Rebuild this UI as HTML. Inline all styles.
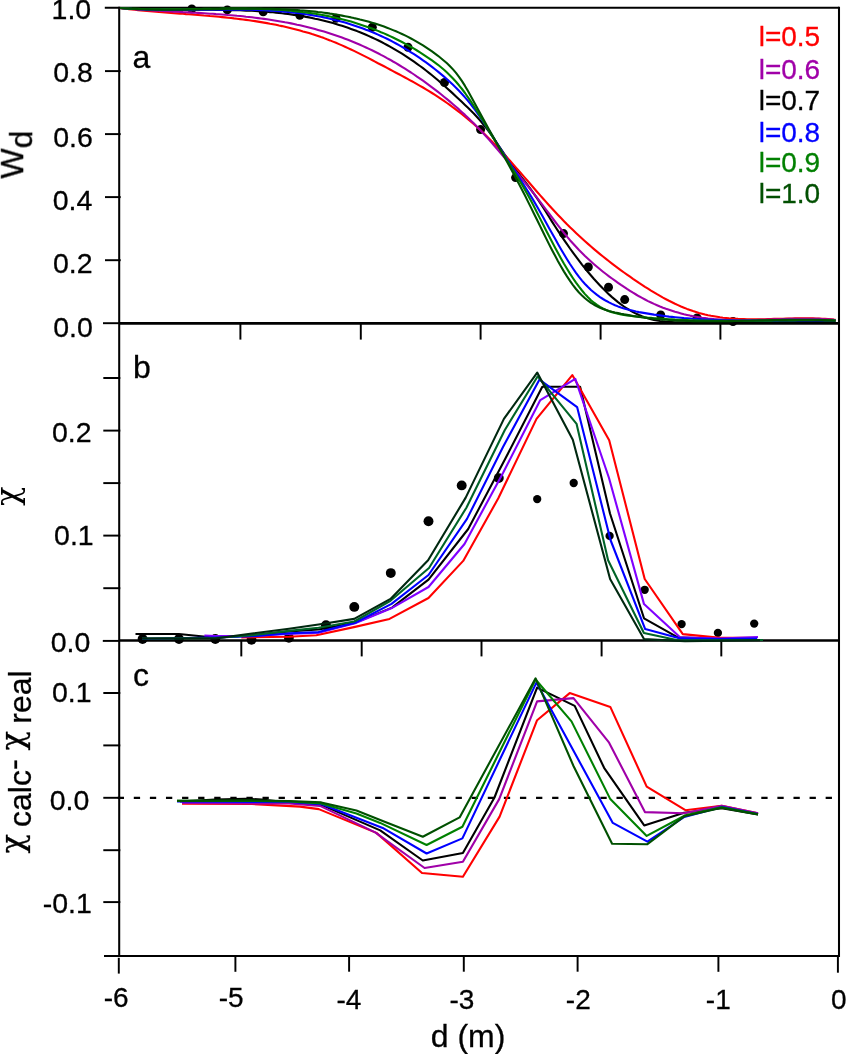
<!DOCTYPE html>
<html><head><meta charset="utf-8"><title>figure</title>
<style>html,body{margin:0;padding:0;background:#fff}svg{display:block}text{font-family:'Liberation Sans', sans-serif}</style>
</head><body>
<svg width="846" height="1054" viewBox="0 0 846 1054">
<rect width="846" height="1054" fill="#fff"/>
<line x1="119.2" y1="6.7" x2="119.2" y2="957.0" stroke="#000" stroke-width="2.05" />
<line x1="839.0" y1="6.7" x2="839.0" y2="957.0" stroke="#000" stroke-width="2.05" />
<line x1="104.8" y1="7.7" x2="839.0" y2="7.7" stroke="#000" stroke-width="2.05" />
<line x1="103.0" y1="323.2" x2="119.2" y2="323.2" stroke="#000" stroke-width="1.95" />
<line x1="119.2" y1="323.4" x2="839.0" y2="323.4" stroke="#000" stroke-width="2.7" />
<line x1="102.8" y1="640.9" x2="119.2" y2="640.9" stroke="#000" stroke-width="1.95" />
<line x1="119.2" y1="640.4" x2="839.0" y2="640.4" stroke="#000" stroke-width="2.5" />
<line x1="104.0" y1="956.0" x2="839.0" y2="956.0" stroke="#000" stroke-width="2.05" />
<line x1="105.0" y1="71.1" x2="120.7" y2="71.1" stroke="#000" stroke-width="1.95" />
<line x1="105.0" y1="134.1" x2="120.7" y2="134.1" stroke="#000" stroke-width="1.95" />
<line x1="105.0" y1="197.1" x2="120.7" y2="197.1" stroke="#000" stroke-width="1.95" />
<line x1="105.0" y1="260.2" x2="120.7" y2="260.2" stroke="#000" stroke-width="1.95" />
<line x1="103.3" y1="378.0" x2="120.3" y2="378.0" stroke="#000" stroke-width="1.95" />
<line x1="103.3" y1="430.6" x2="120.3" y2="430.6" stroke="#000" stroke-width="1.95" />
<line x1="103.3" y1="483.1" x2="120.3" y2="483.1" stroke="#000" stroke-width="1.95" />
<line x1="103.3" y1="535.6" x2="120.3" y2="535.6" stroke="#000" stroke-width="1.95" />
<line x1="103.3" y1="588.2" x2="120.3" y2="588.2" stroke="#000" stroke-width="1.95" />
<line x1="103.3" y1="693.0" x2="120.3" y2="693.0" stroke="#000" stroke-width="1.95" />
<line x1="103.3" y1="745.4" x2="120.3" y2="745.4" stroke="#000" stroke-width="1.95" />
<line x1="103.3" y1="797.8" x2="120.3" y2="797.8" stroke="#000" stroke-width="1.95" />
<line x1="103.3" y1="850.2" x2="120.3" y2="850.2" stroke="#000" stroke-width="1.95" />
<line x1="103.3" y1="902.1" x2="120.3" y2="902.1" stroke="#000" stroke-width="1.95" />
<line x1="240.4" y1="323.4" x2="240.4" y2="339.6" stroke="#000" stroke-width="1.95" />
<line x1="360.8" y1="323.4" x2="360.8" y2="339.6" stroke="#000" stroke-width="1.95" />
<line x1="480.6" y1="323.4" x2="480.6" y2="339.6" stroke="#000" stroke-width="1.95" />
<line x1="600.6" y1="323.4" x2="600.6" y2="339.6" stroke="#000" stroke-width="1.95" />
<line x1="720.4" y1="323.4" x2="720.4" y2="339.6" stroke="#000" stroke-width="1.95" />
<line x1="241.3" y1="640.4" x2="241.3" y2="656.4" stroke="#000" stroke-width="1.95" />
<line x1="361.7" y1="640.4" x2="361.7" y2="656.4" stroke="#000" stroke-width="1.95" />
<line x1="481.5" y1="640.4" x2="481.5" y2="656.4" stroke="#000" stroke-width="1.95" />
<line x1="601.6" y1="640.4" x2="601.6" y2="656.4" stroke="#000" stroke-width="1.95" />
<line x1="721.3" y1="640.4" x2="721.3" y2="656.4" stroke="#000" stroke-width="1.95" />
<line x1="118.8" y1="957.8" x2="118.8" y2="973.6" stroke="#000" stroke-width="1.95" />
<line x1="235.4" y1="956.0" x2="235.4" y2="971.8" stroke="#000" stroke-width="1.95" />
<line x1="349.1" y1="956.0" x2="349.1" y2="971.7" stroke="#000" stroke-width="1.95" />
<line x1="463.8" y1="956.0" x2="463.8" y2="971.7" stroke="#000" stroke-width="1.95" />
<line x1="577.6" y1="956.0" x2="577.6" y2="971.7" stroke="#000" stroke-width="1.95" />
<line x1="718.4" y1="956.0" x2="718.4" y2="971.8" stroke="#000" stroke-width="1.95" />
<line x1="837.9" y1="956.0" x2="837.9" y2="972.7" stroke="#000" stroke-width="1.95" />
<circle cx="191.8" cy="9.0" r="4.5" fill="#000"/>
<circle cx="227.3" cy="9.9" r="4.5" fill="#000"/>
<circle cx="263.2" cy="11.8" r="4.5" fill="#000"/>
<circle cx="299.8" cy="15.2" r="4.5" fill="#000"/>
<circle cx="336.0" cy="18.2" r="4.5" fill="#000"/>
<circle cx="372.3" cy="27.2" r="4.5" fill="#000"/>
<circle cx="408.0" cy="47.3" r="4.5" fill="#000"/>
<circle cx="444.5" cy="82.5" r="4.5" fill="#000"/>
<circle cx="480.6" cy="129.6" r="4.5" fill="#000"/>
<circle cx="515.6" cy="177.6" r="4.5" fill="#000"/>
<circle cx="563.5" cy="233.6" r="4.5" fill="#000"/>
<circle cx="588.3" cy="267.0" r="4.5" fill="#000"/>
<circle cx="608.5" cy="287.2" r="4.5" fill="#000"/>
<circle cx="624.7" cy="299.6" r="4.5" fill="#000"/>
<circle cx="660.7" cy="315.0" r="4.5" fill="#000"/>
<circle cx="697.1" cy="318.0" r="4.5" fill="#000"/>
<circle cx="733.0" cy="321.5" r="4.5" fill="#000"/>
<circle cx="142.6" cy="639.0" r="4.95" fill="#000"/>
<circle cx="179.0" cy="639.0" r="4.95" fill="#000"/>
<circle cx="215.3" cy="639.0" r="4.95" fill="#000"/>
<circle cx="251.5" cy="639.7" r="4.95" fill="#000"/>
<circle cx="288.9" cy="637.7" r="4.95" fill="#000"/>
<circle cx="326.0" cy="625.2" r="4.95" fill="#000"/>
<circle cx="354.3" cy="606.9" r="4.95" fill="#000"/>
<circle cx="390.8" cy="573.1" r="4.95" fill="#000"/>
<circle cx="428.5" cy="521.2" r="4.95" fill="#000"/>
<circle cx="461.7" cy="485.4" r="4.95" fill="#000"/>
<circle cx="498.8" cy="478.1" r="4.95" fill="#000"/>
<circle cx="537.2" cy="499.1" r="4.15" fill="#000"/>
<circle cx="573.7" cy="483.0" r="4.15" fill="#000"/>
<circle cx="609.6" cy="535.9" r="4.15" fill="#000"/>
<circle cx="644.7" cy="589.8" r="4.15" fill="#000"/>
<circle cx="681.6" cy="624.1" r="4.15" fill="#000"/>
<circle cx="717.9" cy="632.9" r="4.15" fill="#000"/>
<circle cx="754.2" cy="623.6" r="4.15" fill="#000"/>
<line x1="117.7" y1="797.8" x2="832" y2="797.8" stroke="#000" stroke-width="2.2" stroke-dasharray="6.3 9.79"/>
<polyline points="120.0,8.0 123.0,8.2 126.0,8.4 129.0,8.6 132.0,8.7 135.0,8.9 138.0,9.0 141.0,9.1 144.0,9.2 147.0,9.3 150.0,9.4 153.0,9.5 156.0,9.5 159.0,9.6 162.0,9.6 165.0,9.7 168.0,9.7 171.0,9.7 174.0,9.7 177.0,9.8 180.0,9.8 183.0,9.8 186.0,9.8 189.0,9.8 192.0,9.8 195.0,9.8 198.0,9.8 201.0,9.8 204.0,9.8 207.0,9.8 210.0,9.8 213.0,9.8 216.0,9.9 219.0,9.9 222.0,9.9 225.0,10.0 228.0,10.0 231.0,10.1 234.0,10.2 237.0,10.2 240.0,10.3 243.0,10.4 246.0,10.6 249.0,10.7 252.0,10.8 255.0,11.0 258.0,11.2 261.0,11.4 264.0,11.6 267.0,11.8 270.0,12.1 273.0,12.3 276.0,12.6 279.0,12.9 282.0,13.3 285.0,13.6 288.0,14.0 291.0,14.4 294.0,14.9 297.0,15.3 300.0,15.8 303.0,16.3 306.0,16.9 309.0,17.4 312.0,18.0 315.0,18.7 318.0,19.3 321.0,20.0 324.0,20.7 327.0,21.5 330.0,22.3 333.0,23.1 336.0,24.0 339.0,24.9 342.0,25.8 345.0,26.8 348.0,27.8 351.0,28.9 354.0,30.0 357.0,31.1 360.0,32.3 363.0,33.5 366.0,34.8 369.0,36.1 372.0,37.5 375.0,38.9 378.0,40.3 381.0,41.8 384.0,43.4 387.0,45.0 390.0,46.6 393.0,48.3 396.0,50.1 399.0,51.9 402.0,53.7 405.0,55.6 408.0,57.6 411.0,59.6 414.0,61.7 417.0,63.8 420.0,66.0 423.0,68.2 426.0,70.5 429.0,72.9 432.0,75.3 435.0,77.8 438.0,80.3 441.0,82.9 444.0,85.5 447.0,88.2 450.0,90.9 453.0,93.6 456.0,96.4 459.0,99.2 462.0,102.0 465.0,104.9 468.0,107.8 471.0,110.8 474.0,113.8 477.0,117.0 480.0,120.4 483.0,124.0 486.0,127.7 489.0,131.7 492.0,135.9 495.0,140.3 498.0,144.8 501.0,149.2 504.0,153.6 507.0,157.9 510.0,162.1 513.0,166.1 516.0,170.0 519.0,173.9 522.0,177.8 525.0,181.7 528.0,185.6 531.0,189.6 534.0,193.8 537.0,198.1 540.0,202.6 543.0,207.3 546.0,212.0 549.0,216.8 552.0,221.6 555.0,226.3 558.0,230.9 561.0,235.4 564.0,239.9 567.0,244.2 570.0,248.5 573.0,252.6 576.0,256.7 579.0,260.7 582.0,264.6 585.0,268.3 588.0,272.0 591.0,275.5 594.0,279.0 597.0,282.3 600.0,285.5 603.0,288.6 606.0,291.5 609.0,294.4 612.0,297.1 615.0,299.6 618.0,302.1 621.0,304.4 624.0,306.5 627.0,308.5 630.0,310.4 633.0,312.1 636.0,313.6 639.0,315.0 642.0,316.3 645.0,317.4 648.0,318.3 651.0,319.2 654.0,319.9 657.0,320.5 660.0,321.0 663.0,321.4 666.0,321.7 669.0,322.0 672.0,322.1 675.0,322.2 678.0,322.3 681.0,322.3 684.0,322.3 687.0,322.2 690.0,322.1 693.0,322.0 696.0,321.9 699.0,321.8 702.0,321.7 705.0,321.6 708.0,321.5 711.0,321.5 714.0,321.4 717.0,321.3 720.0,321.3 723.0,321.3 726.0,321.3 729.0,321.3 732.0,321.2 735.0,321.2 738.0,321.3 741.0,321.3 744.0,321.3 747.0,321.3 750.0,321.3 753.0,321.3 756.0,321.4 759.0,321.4 762.0,321.4 765.0,321.5 768.0,321.5 771.0,321.5 774.0,321.6 777.0,321.6 780.0,321.6 783.0,321.6 786.0,321.7 789.0,321.7 792.0,321.7 795.0,321.7 798.0,321.7 801.0,321.7 804.0,321.7 807.0,321.6 810.0,321.6 813.0,321.6 816.0,321.5 819.0,321.5 822.0,321.4 825.0,321.3 828.0,321.2 831.0,321.1 834.0,321.0 835.5,321.0" fill="none" stroke="#000000" stroke-width="2.1" stroke-linejoin="round" stroke-linecap="butt" />
<polyline points="120.0,8.0 123.0,8.4 126.0,8.7 129.0,9.1 132.0,9.4 135.0,9.8 138.0,10.1 141.0,10.4 144.0,10.7 147.0,10.9 150.0,11.2 153.0,11.5 156.0,11.7 159.0,12.0 162.0,12.2 165.0,12.5 168.0,12.7 171.0,12.9 174.0,13.2 177.0,13.4 180.0,13.6 183.0,13.8 186.0,14.1 189.0,14.3 192.0,14.5 195.0,14.8 198.0,15.0 201.0,15.2 204.0,15.5 207.0,15.7 210.0,16.0 213.0,16.2 216.0,16.5 219.0,16.8 222.0,17.1 225.0,17.4 228.0,17.7 231.0,18.0 234.0,18.4 237.0,18.7 240.0,19.1 243.0,19.5 246.0,19.9 249.0,20.3 252.0,20.7 255.0,21.1 258.0,21.6 261.0,22.1 264.0,22.6 267.0,23.1 270.0,23.7 273.0,24.2 276.0,24.8 279.0,25.5 282.0,26.1 285.0,26.8 288.0,27.5 291.0,28.2 294.0,28.9 297.0,29.7 300.0,30.5 303.0,31.4 306.0,32.2 309.0,33.1 312.0,34.1 315.0,35.0 318.0,36.0 321.0,37.1 324.0,38.1 327.0,39.3 330.0,40.4 333.0,41.6 336.0,42.8 339.0,44.1 342.0,45.4 345.0,46.7 348.0,48.1 351.0,49.5 354.0,50.9 357.0,52.4 360.0,53.9 363.0,55.4 366.0,56.9 369.0,58.4 372.0,60.0 375.0,61.6 378.0,63.2 381.0,64.7 384.0,66.3 387.0,67.9 390.0,69.5 393.0,71.1 396.0,72.7 399.0,74.3 402.0,75.9 405.0,77.5 408.0,79.1 411.0,80.8 414.0,82.4 417.0,84.1 420.0,85.8 423.0,87.5 426.0,89.3 429.0,91.1 432.0,93.0 435.0,94.9 438.0,96.8 441.0,98.8 444.0,100.9 447.0,103.0 450.0,105.1 453.0,107.3 456.0,109.6 459.0,111.9 462.0,114.2 465.0,116.7 468.0,119.1 471.0,121.7 474.0,124.3 477.0,127.0 480.0,129.7 483.0,132.6 486.0,135.4 489.0,138.4 492.0,141.4 495.0,144.5 498.0,147.7 501.0,150.9 504.0,154.2 507.0,157.5 510.0,160.8 513.0,164.2 516.0,167.6 519.0,171.0 522.0,174.4 525.0,177.9 528.0,181.3 531.0,184.8 534.0,188.2 537.0,191.7 540.0,195.1 543.0,198.5 546.0,201.9 549.0,205.2 552.0,208.5 555.0,211.8 558.0,215.0 561.0,218.1 564.0,221.2 567.0,224.3 570.0,227.2 573.0,230.1 576.0,233.0 579.0,235.8 582.0,238.6 585.0,241.3 588.0,243.9 591.0,246.5 594.0,249.1 597.0,251.6 600.0,254.1 603.0,256.5 606.0,258.9 609.0,261.3 612.0,263.6 615.0,265.8 618.0,268.1 621.0,270.3 624.0,272.5 627.0,274.6 630.0,276.7 633.0,278.8 636.0,280.8 639.0,282.9 642.0,284.8 645.0,286.8 648.0,288.7 651.0,290.6 654.0,292.4 657.0,294.2 660.0,295.9 663.0,297.6 666.0,299.2 669.0,300.8 672.0,302.3 675.0,303.8 678.0,305.1 681.0,306.5 684.0,307.7 687.0,308.9 690.0,310.0 693.0,311.1 696.0,312.0 699.0,312.9 702.0,313.7 705.0,314.5 708.0,315.2 711.0,315.8 714.0,316.3 717.0,316.8 720.0,317.3 723.0,317.7 726.0,318.0 729.0,318.3 732.0,318.5 735.0,318.7 738.0,318.9 741.0,319.0 744.0,319.1 747.0,319.2 750.0,319.3 753.0,319.3 756.0,319.3 759.0,319.2 762.0,319.2 765.0,319.2 768.0,319.1 771.0,319.0 774.0,318.9 777.0,318.9 780.0,318.8 783.0,318.7 786.0,318.6 789.0,318.5 792.0,318.5 795.0,318.4 798.0,318.4 801.0,318.3 804.0,318.3 807.0,318.3 810.0,318.3 813.0,318.4 816.0,318.5 819.0,318.6 822.0,318.7 825.0,318.8 828.0,319.0 831.0,319.3 834.0,319.6 835.5,319.7" fill="none" stroke="#ff0000" stroke-width="2.1" stroke-linejoin="round" stroke-linecap="butt" />
<polyline points="120.0,8.0 123.0,8.3 126.0,8.5 129.0,8.8 132.0,9.0 135.0,9.2 138.0,9.4 141.0,9.7 144.0,9.9 147.0,10.1 150.0,10.2 153.0,10.4 156.0,10.6 159.0,10.8 162.0,11.0 165.0,11.1 168.0,11.3 171.0,11.4 174.0,11.6 177.0,11.8 180.0,11.9 183.0,12.1 186.0,12.2 189.0,12.4 192.0,12.6 195.0,12.7 198.0,12.9 201.0,13.1 204.0,13.3 207.0,13.5 210.0,13.7 213.0,13.8 216.0,14.1 219.0,14.3 222.0,14.5 225.0,14.7 228.0,15.0 231.0,15.2 234.0,15.5 237.0,15.8 240.0,16.0 243.0,16.3 246.0,16.7 249.0,17.0 252.0,17.3 255.0,17.7 258.0,18.1 261.0,18.5 264.0,18.9 267.0,19.3 270.0,19.7 273.0,20.2 276.0,20.7 279.0,21.2 282.0,21.7 285.0,22.3 288.0,22.8 291.0,23.4 294.0,24.0 297.0,24.7 300.0,25.3 303.0,26.0 306.0,26.7 309.0,27.5 312.0,28.3 315.0,29.1 318.0,29.9 321.0,30.7 324.0,31.6 327.0,32.5 330.0,33.5 333.0,34.5 336.0,35.5 339.0,36.5 342.0,37.6 345.0,38.7 348.0,39.8 351.0,41.0 354.0,42.2 357.0,43.5 360.0,44.8 363.0,46.1 366.0,47.5 369.0,48.9 372.0,50.3 375.0,51.8 378.0,53.3 381.0,54.9 384.0,56.4 387.0,58.1 390.0,59.7 393.0,61.5 396.0,63.2 399.0,65.0 402.0,66.8 405.0,68.7 408.0,70.6 411.0,72.5 414.0,74.5 417.0,76.6 420.0,78.6 423.0,80.7 426.0,82.9 429.0,85.1 432.0,87.3 435.0,89.6 438.0,91.9 441.0,94.3 444.0,96.7 447.0,99.1 450.0,101.6 453.0,104.2 456.0,106.8 459.0,109.4 462.0,112.2 465.0,114.9 468.0,117.8 471.0,120.7 474.0,123.6 477.0,126.7 480.0,129.8 483.0,133.0 486.0,136.2 489.0,139.6 492.0,143.0 495.0,146.5 498.0,150.0 501.0,153.5 504.0,157.1 507.0,160.7 510.0,164.3 513.0,167.9 516.0,171.6 519.0,175.2 522.0,178.9 525.0,182.6 528.0,186.3 531.0,190.1 534.0,193.9 537.0,197.7 540.0,201.6 543.0,205.6 546.0,209.6 549.0,213.5 552.0,217.5 555.0,221.5 558.0,225.4 561.0,229.2 564.0,233.0 567.0,236.6 570.0,240.2 573.0,243.5 576.0,246.8 579.0,250.0 582.0,253.0 585.0,256.0 588.0,258.8 591.0,261.5 594.0,264.2 597.0,266.8 600.0,269.3 603.0,271.7 606.0,274.0 609.0,276.3 612.0,278.5 615.0,280.7 618.0,282.8 621.0,284.9 624.0,286.9 627.0,288.9 630.0,290.8 633.0,292.7 636.0,294.5 639.0,296.3 642.0,297.9 645.0,299.5 648.0,301.1 651.0,302.5 654.0,303.9 657.0,305.2 660.0,306.5 663.0,307.7 666.0,308.8 669.0,309.8 672.0,310.8 675.0,311.8 678.0,312.6 681.0,313.4 684.0,314.2 687.0,314.9 690.0,315.6 693.0,316.2 696.0,316.7 699.0,317.2 702.0,317.7 705.0,318.1 708.0,318.5 711.0,318.8 714.0,319.1 717.0,319.3 720.0,319.5 723.0,319.7 726.0,319.9 729.0,320.0 732.0,320.1 735.0,320.1 738.0,320.2 741.0,320.2 744.0,320.2 747.0,320.2 750.0,320.1 753.0,320.1 756.0,320.0 759.0,319.9 762.0,319.8 765.0,319.7 768.0,319.6 771.0,319.5 774.0,319.4 777.0,319.3 780.0,319.2 783.0,319.1 786.0,319.0 789.0,318.9 792.0,318.8 795.0,318.8 798.0,318.7 801.0,318.7 804.0,318.7 807.0,318.7 810.0,318.7 813.0,318.7 816.0,318.8 819.0,318.9 822.0,319.0 825.0,319.2 828.0,319.4 831.0,319.6 834.0,319.9 835.5,320.0" fill="none" stroke="#a000a8" stroke-width="2.1" stroke-linejoin="round" stroke-linecap="butt" />
<polyline points="120.0,8.0 123.0,8.2 126.0,8.5 129.0,8.7 132.0,8.9 135.0,9.0 138.0,9.2 141.0,9.3 144.0,9.5 147.0,9.6 150.0,9.7 153.0,9.7 156.0,9.8 159.0,9.8 162.0,9.9 165.0,9.9 168.0,9.9 171.0,10.0 174.0,10.0 177.0,10.0 180.0,10.0 183.0,9.9 186.0,9.9 189.0,9.9 192.0,9.9 195.0,9.8 198.0,9.8 201.0,9.8 204.0,9.7 207.0,9.7 210.0,9.7 213.0,9.6 216.0,9.6 219.0,9.6 222.0,9.6 225.0,9.6 228.0,9.6 231.0,9.6 234.0,9.6 237.0,9.6 240.0,9.6 243.0,9.7 246.0,9.7 249.0,9.8 252.0,9.8 255.0,9.9 258.0,10.0 261.0,10.1 264.0,10.3 267.0,10.4 270.0,10.6 273.0,10.8 276.0,11.0 279.0,11.2 282.0,11.4 285.0,11.7 288.0,12.0 291.0,12.3 294.0,12.6 297.0,13.0 300.0,13.3 303.0,13.8 306.0,14.2 309.0,14.6 312.0,15.1 315.0,15.7 318.0,16.2 321.0,16.8 324.0,17.4 327.0,18.0 330.0,18.7 333.0,19.4 336.0,20.2 339.0,20.9 342.0,21.7 345.0,22.6 348.0,23.5 351.0,24.4 354.0,25.4 357.0,26.4 360.0,27.4 363.0,28.5 366.0,29.7 369.0,30.8 372.0,32.1 375.0,33.3 378.0,34.6 381.0,36.0 384.0,37.4 387.0,38.8 390.0,40.3 393.0,41.9 396.0,43.5 399.0,45.1 402.0,46.8 405.0,48.6 408.0,50.4 411.0,52.3 414.0,54.2 417.0,56.2 420.0,58.2 423.0,60.3 426.0,62.4 429.0,64.7 432.0,66.9 435.0,69.3 438.0,71.6 441.0,74.1 444.0,76.6 447.0,79.2 450.0,82.0 453.0,84.8 456.0,87.7 459.0,90.8 462.0,94.0 465.0,97.4 468.0,100.9 471.0,104.6 474.0,108.5 477.0,112.6 480.0,116.9 483.0,121.4 486.0,126.0 489.0,130.6 492.0,135.4 495.0,140.1 498.0,144.9 501.0,149.7 504.0,154.4 507.0,159.0 510.0,163.6 513.0,168.2 516.0,172.8 519.0,177.4 522.0,182.1 525.0,186.8 528.0,191.5 531.0,196.4 534.0,201.4 537.0,206.5 540.0,211.8 543.0,217.1 546.0,222.5 549.0,227.9 552.0,233.3 555.0,238.6 558.0,243.9 561.0,249.2 564.0,254.3 567.0,259.2 570.0,264.0 573.0,268.5 576.0,272.8 579.0,276.9 582.0,280.6 585.0,284.0 588.0,287.1 591.0,290.0 594.0,292.5 597.0,294.9 600.0,297.1 603.0,299.0 606.0,300.8 609.0,302.4 612.0,303.9 615.0,305.2 618.0,306.4 621.0,307.5 624.0,308.5 627.0,309.3 630.0,310.1 633.0,310.8 636.0,311.5 639.0,312.1 642.0,312.6 645.0,313.1 648.0,313.6 651.0,314.1 654.0,314.6 657.0,315.0 660.0,315.4 663.0,315.8 666.0,316.2 669.0,316.6 672.0,316.9 675.0,317.2 678.0,317.5 681.0,317.8 684.0,318.1 687.0,318.3 690.0,318.5 693.0,318.8 696.0,319.0 699.0,319.2 702.0,319.3 705.0,319.5 708.0,319.6 711.0,319.8 714.0,319.9 717.0,320.0 720.0,320.1 723.0,320.2 726.0,320.3 729.0,320.4 732.0,320.4 735.0,320.5 738.0,320.5 741.0,320.5 744.0,320.6 747.0,320.6 750.0,320.6 753.0,320.6 756.0,320.6 759.0,320.6 762.0,320.6 765.0,320.6 768.0,320.6 771.0,320.6 774.0,320.6 777.0,320.6 780.0,320.5 783.0,320.5 786.0,320.5 789.0,320.5 792.0,320.5 795.0,320.4 798.0,320.4 801.0,320.4 804.0,320.4 807.0,320.4 810.0,320.4 813.0,320.4 816.0,320.4 819.0,320.4 822.0,320.4 825.0,320.4 828.0,320.4 831.0,320.4 834.0,320.5 835.5,320.5" fill="none" stroke="#0000ff" stroke-width="2.1" stroke-linejoin="round" stroke-linecap="butt" />
<polyline points="120.0,8.0 123.0,8.2 126.0,8.4 129.0,8.5 132.0,8.7 135.0,8.8 138.0,8.9 141.0,9.0 144.0,9.1 147.0,9.2 150.0,9.2 153.0,9.3 156.0,9.3 159.0,9.3 162.0,9.4 165.0,9.4 168.0,9.4 171.0,9.3 174.0,9.3 177.0,9.3 180.0,9.3 183.0,9.2 186.0,9.2 189.0,9.1 192.0,9.1 195.0,9.1 198.0,9.0 201.0,9.0 204.0,8.9 207.0,8.9 210.0,8.8 213.0,8.8 216.0,8.7 219.0,8.7 222.0,8.6 225.0,8.6 228.0,8.6 231.0,8.6 234.0,8.6 237.0,8.6 240.0,8.6 243.0,8.6 246.0,8.6 249.0,8.7 252.0,8.7 255.0,8.8 258.0,8.9 261.0,8.9 264.0,9.1 267.0,9.2 270.0,9.3 273.0,9.5 276.0,9.6 279.0,9.8 282.0,10.0 285.0,10.3 288.0,10.5 291.0,10.8 294.0,11.1 297.0,11.4 300.0,11.7 303.0,12.1 306.0,12.4 309.0,12.9 312.0,13.3 315.0,13.8 318.0,14.2 321.0,14.8 324.0,15.3 327.0,15.9 330.0,16.5 333.0,17.1 336.0,17.8 339.0,18.5 342.0,19.2 345.0,20.0 348.0,20.8 351.0,21.6 354.0,22.5 357.0,23.4 360.0,24.4 363.0,25.4 366.0,26.4 369.0,27.5 372.0,28.6 375.0,29.7 378.0,30.9 381.0,32.2 384.0,33.4 387.0,34.7 390.0,36.1 393.0,37.5 396.0,39.0 399.0,40.5 402.0,42.0 405.0,43.6 408.0,45.3 411.0,47.0 414.0,48.7 417.0,50.5 420.0,52.4 423.0,54.3 426.0,56.3 429.0,58.3 432.0,60.4 435.0,62.6 438.0,64.8 441.0,67.3 444.0,69.8 447.0,72.5 450.0,75.4 453.0,78.5 456.0,81.8 459.0,85.3 462.0,89.0 465.0,93.0 468.0,97.3 471.0,101.7 474.0,106.3 477.0,111.0 480.0,115.9 483.0,120.8 486.0,125.8 489.0,130.7 492.0,135.7 495.0,140.7 498.0,145.6 501.0,150.5 504.0,155.4 507.0,160.2 510.0,165.1 513.0,169.9 516.0,174.8 519.0,179.7 522.0,184.8 525.0,189.9 528.0,195.3 531.0,200.8 534.0,206.5 537.0,212.4 540.0,218.4 543.0,224.3 546.0,230.2 549.0,236.1 552.0,241.8 555.0,247.5 558.0,253.0 561.0,258.4 564.0,263.7 567.0,268.7 570.0,273.6 573.0,278.2 576.0,282.6 579.0,286.7 582.0,290.5 585.0,294.1 588.0,297.3 591.0,300.2 594.0,302.7 597.0,304.9 600.0,306.9 603.0,308.5 606.0,310.0 609.0,311.2 612.0,312.2 615.0,313.1 618.0,313.8 621.0,314.4 624.0,314.9 627.0,315.4 630.0,315.8 633.0,316.1 636.0,316.5 639.0,316.8 642.0,317.1 645.0,317.4 648.0,317.7 651.0,317.9 654.0,318.2 657.0,318.4 660.0,318.6 663.0,318.8 666.0,319.0 669.0,319.2 672.0,319.4 675.0,319.6 678.0,319.7 681.0,319.8 684.0,320.0 687.0,320.1 690.0,320.2 693.0,320.3 696.0,320.4 699.0,320.5 702.0,320.5 705.0,320.6 708.0,320.6 711.0,320.7 714.0,320.7 717.0,320.8 720.0,320.8 723.0,320.8 726.0,320.8 729.0,320.8 732.0,320.8 735.0,320.8 738.0,320.8 741.0,320.8 744.0,320.8 747.0,320.8 750.0,320.8 753.0,320.7 756.0,320.7 759.0,320.7 762.0,320.7 765.0,320.6 768.0,320.6 771.0,320.6 774.0,320.5 777.0,320.5 780.0,320.5 783.0,320.5 786.0,320.4 789.0,320.4 792.0,320.4 795.0,320.4 798.0,320.3 801.0,320.3 804.0,320.3 807.0,320.3 810.0,320.3 813.0,320.3 816.0,320.3 819.0,320.3 822.0,320.3 825.0,320.4 828.0,320.4 831.0,320.4 834.0,320.5 835.5,320.5" fill="none" stroke="#008000" stroke-width="2.1" stroke-linejoin="round" stroke-linecap="butt" />
<polyline points="120.0,8.0 123.0,8.2 126.0,8.4 129.0,8.6 132.0,8.8 135.0,8.9 138.0,9.1 141.0,9.2 144.0,9.3 147.0,9.4 150.0,9.5 153.0,9.5 156.0,9.6 159.0,9.6 162.0,9.7 165.0,9.7 168.0,9.7 171.0,9.7 174.0,9.7 177.0,9.7 180.0,9.7 183.0,9.6 186.0,9.6 189.0,9.5 192.0,9.5 195.0,9.5 198.0,9.4 201.0,9.3 204.0,9.3 207.0,9.2 210.0,9.2 213.0,9.1 216.0,9.1 219.0,9.0 222.0,8.9 225.0,8.9 228.0,8.8 231.0,8.8 234.0,8.8 237.0,8.7 240.0,8.7 243.0,8.7 246.0,8.7 249.0,8.6 252.0,8.6 255.0,8.6 258.0,8.7 261.0,8.7 264.0,8.7 267.0,8.8 270.0,8.8 273.0,8.9 276.0,9.0 279.0,9.1 282.0,9.2 285.0,9.3 288.0,9.5 291.0,9.7 294.0,9.8 297.0,10.0 300.0,10.3 303.0,10.5 306.0,10.7 309.0,11.0 312.0,11.3 315.0,11.6 318.0,12.0 321.0,12.3 324.0,12.7 327.0,13.1 330.0,13.6 333.0,14.0 336.0,14.5 339.0,15.0 342.0,15.6 345.0,16.2 348.0,16.8 351.0,17.4 354.0,18.1 357.0,18.7 360.0,19.5 363.0,20.2 366.0,21.0 369.0,21.8 372.0,22.7 375.0,23.6 378.0,24.6 381.0,25.6 384.0,26.6 387.0,27.7 390.0,28.9 393.0,30.1 396.0,31.3 399.0,32.6 402.0,34.0 405.0,35.4 408.0,36.9 411.0,38.5 414.0,40.1 417.0,41.8 420.0,43.6 423.0,45.4 426.0,47.4 429.0,49.4 432.0,51.4 435.0,53.6 438.0,55.8 441.0,58.2 444.0,60.7 447.0,63.3 450.0,66.2 453.0,69.4 456.0,72.9 459.0,76.8 462.0,81.1 465.0,85.9 468.0,91.1 471.0,96.5 474.0,102.0 477.0,107.6 480.0,113.1 483.0,118.5 486.0,124.0 489.0,129.4 492.0,134.7 495.0,140.1 498.0,145.5 501.0,150.9 504.0,156.3 507.0,161.8 510.0,167.3 513.0,172.8 516.0,178.4 519.0,184.1 522.0,189.8 525.0,195.6 528.0,201.6 531.0,207.6 534.0,213.7 537.0,219.8 540.0,225.9 543.0,232.0 546.0,238.1 549.0,244.1 552.0,249.9 555.0,255.6 558.0,261.2 561.0,266.5 564.0,271.6 567.0,276.4 570.0,280.9 573.0,285.1 576.0,289.0 579.0,292.5 582.0,295.5 585.0,298.3 588.0,300.7 591.0,302.9 594.0,304.7 597.0,306.3 600.0,307.8 603.0,309.0 606.0,310.0 609.0,311.0 612.0,311.8 615.0,312.5 618.0,313.1 621.0,313.8 624.0,314.4 627.0,314.9 630.0,315.4 633.0,316.0 636.0,316.4 639.0,316.9 642.0,317.3 645.0,317.7 648.0,318.1 651.0,318.4 654.0,318.7 657.0,319.0 660.0,319.3 663.0,319.6 666.0,319.8 669.0,320.0 672.0,320.2 675.0,320.4 678.0,320.6 681.0,320.7 684.0,320.8 687.0,320.9 690.0,321.0 693.0,321.1 696.0,321.2 699.0,321.2 702.0,321.3 705.0,321.3 708.0,321.3 711.0,321.3 714.0,321.3 717.0,321.3 720.0,321.3 723.0,321.2 726.0,321.2 729.0,321.1 732.0,321.1 735.0,321.0 738.0,321.0 741.0,320.9 744.0,320.8 747.0,320.8 750.0,320.7 753.0,320.6 756.0,320.5 759.0,320.4 762.0,320.4 765.0,320.3 768.0,320.2 771.0,320.1 774.0,320.1 777.0,320.0 780.0,320.0 783.0,319.9 786.0,319.9 789.0,319.8 792.0,319.8 795.0,319.8 798.0,319.7 801.0,319.7 804.0,319.7 807.0,319.8 810.0,319.8 813.0,319.8 816.0,319.9 819.0,319.9 822.0,320.0 825.0,320.1 828.0,320.2 831.0,320.3 834.0,320.5 835.8,320.6" fill="none" stroke="#005000" stroke-width="2.1" stroke-linejoin="round" stroke-linecap="butt" />
<polyline points="135.5,634.0 178.9,634.0 215.8,637.7 252.0,635.3 288.9,631.5 318.5,629.5 354.8,622.9 392.0,607.6 428.5,579.6 468.2,529.0 505.0,459.3 542.3,386.8 580.1,386.8 610.0,513.5 644.0,618.3 677.8,637.4 720.0,639.0 757.0,638.0" fill="none" stroke="#000000" stroke-width="2.1" stroke-linejoin="round" stroke-linecap="butt" stroke-linejoin="miter"/>
<polyline points="241.3,637.4 289.0,636.7 316.3,635.2 353.9,627.1 389.5,618.9 428.5,598.0 463.2,560.9 498.3,498.3 536.5,418.9 572.3,375.1 609.2,440.2 644.7,579.0 682.8,634.1 720.4,637.9 755.5,637.9" fill="none" stroke="#ff0000" stroke-width="2.1" stroke-linejoin="round" stroke-linecap="butt" stroke-linejoin="miter"/>
<polyline points="204.4,635.5 215.8,636.0 252.0,635.8 289.0,634.0 318.5,632.7 355.0,623.3 392.5,607.7 428.5,587.0 464.5,544.0 503.0,473.0 540.3,400.1 575.3,378.8 609.0,478.0 644.0,604.1 680.3,637.4 720.0,638.5 758.0,637.1" fill="none" stroke="#8000ff" stroke-width="2.1" stroke-linejoin="round" stroke-linecap="butt" stroke-linejoin="miter"/>
<polyline points="142.0,638.8 215.0,637.5 252.7,636.3 289.0,633.3 318.5,632.1 355.0,622.7 391.5,603.9 428.5,575.0 467.0,518.9 503.0,447.0 539.5,379.6 577.1,407.1 610.5,540.0 645.2,629.1 680.3,638.4 720.0,639.0 757.0,638.5" fill="none" stroke="#0000ff" stroke-width="2.1" stroke-linejoin="round" stroke-linecap="butt" stroke-linejoin="miter"/>
<polyline points="142.0,638.5 215.0,638.0 252.0,635.3 289.0,630.9 318.5,627.8 354.2,621.5 390.5,600.8 429.0,568.0 466.4,507.7 504.7,430.2 537.7,376.3 576.6,423.9 608.1,560.2 643.9,633.0 677.8,640.2 763.0,640.0" fill="none" stroke="#006428" stroke-width="2.1" stroke-linejoin="round" stroke-linecap="butt" stroke-linejoin="miter"/>
<polyline points="142.0,638.5 215.0,638.5 252.0,633.5 289.0,628.7 318.5,624.5 354.2,618.9 390.5,598.9 428.1,560.3 465.7,497.6 503.9,418.9 537.2,372.6 572.8,439.7 610.1,579.0 644.0,639.1 685.0,641.3 760.0,640.3" fill="none" stroke="#002810" stroke-width="2.1" stroke-linejoin="round" stroke-linecap="butt" stroke-linejoin="miter"/>
<polyline points="180.0,801.5 215.0,799.6 245.0,798.8 262.0,799.5 289.0,802.5 321.3,804.9 380.2,830.4 422.8,860.5 462.9,853.0 494.5,797.5 537.1,687.6 574.7,705.9 604.1,767.8 644.2,825.4 684.1,812.7 721.7,808.2 758.0,814.4" fill="none" stroke="#000000" stroke-width="2.1" stroke-linejoin="round" stroke-linecap="butt" stroke-linejoin="miter"/>
<polyline points="182.0,803.8 252.0,804.0 300.0,806.6 318.8,809.1 376.4,832.9 422.0,873.0 462.9,876.8 499.6,816.6 537.1,720.2 569.7,693.1 610.3,706.9 646.7,786.6 685.4,810.2 721.7,805.7 758.0,813.2" fill="none" stroke="#ff0000" stroke-width="2.1" stroke-linejoin="round" stroke-linecap="butt" stroke-linejoin="miter"/>
<polyline points="182.0,803.0 289.0,803.5 320.0,805.9 375.2,832.4 424.6,868.0 462.9,861.8 499.2,799.1 537.1,701.4 573.5,698.1 609.1,742.7 644.9,812.1 684.1,813.2 721.7,805.9 758.0,813.4" fill="none" stroke="#a000a8" stroke-width="2.1" stroke-linejoin="round" stroke-linecap="butt" stroke-linejoin="miter"/>
<polyline points="177.0,801.5 289.0,802.0 321.3,804.1 382.7,827.9 426.6,853.5 462.4,838.4 536.4,682.6 612.8,822.9 647.4,841.7 684.3,817.0 721.7,806.9 758.0,814.0" fill="none" stroke="#0000ff" stroke-width="2.1" stroke-linejoin="round" stroke-linecap="butt" stroke-linejoin="miter"/>
<polyline points="177.0,800.9 215.0,801.0 252.0,801.0 289.0,801.5 321.3,803.4 356.4,813.4 380.2,822.9 426.6,845.0 462.4,826.7 535.6,679.5 571.5,721.4 610.3,799.1 646.7,835.9 685.4,815.2 721.7,807.2 758.0,814.2" fill="none" stroke="#008000" stroke-width="2.1" stroke-linejoin="round" stroke-linecap="butt" stroke-linejoin="miter"/>
<polyline points="177.0,800.9 215.0,800.6 252.0,800.4 289.0,801.0 321.3,802.4 356.4,810.4 380.2,819.9 422.8,836.7 459.6,817.4 535.6,678.3 573.5,766.0 612.1,843.7 647.4,844.2 684.5,816.2 721.7,807.7 758.0,814.4" fill="none" stroke="#005000" stroke-width="2.1" stroke-linejoin="round" stroke-linecap="butt" stroke-linejoin="miter"/>
<g opacity="0.999">
<text x="91.2" y="19.4" font-size="28.5" text-anchor="end" fill="#000" stroke="#000" stroke-width="0.3" >1.0</text>
<text x="92.9" y="82.3" font-size="28.5" text-anchor="end" fill="#000" stroke="#000" stroke-width="0.3" >0.8</text>
<text x="92.9" y="147.2" font-size="28.5" text-anchor="end" fill="#000" stroke="#000" stroke-width="0.3" >0.6</text>
<text x="92.4" y="210.2" font-size="28.5" text-anchor="end" fill="#000" stroke="#000" stroke-width="0.3" >0.4</text>
<text x="92.6" y="273.1" font-size="28.5" text-anchor="end" fill="#000" stroke="#000" stroke-width="0.3" >0.2</text>
<text x="92.9" y="336.5" font-size="28.5" text-anchor="end" fill="#000" stroke="#000" stroke-width="0.3" >0.0</text>
<text x="91.5" y="441.9" font-size="28.5" text-anchor="end" fill="#000" stroke="#000" stroke-width="0.3" >0.2</text>
<text x="93.7" y="544.7" font-size="28.5" text-anchor="end" fill="#000" stroke="#000" stroke-width="0.3" >0.1</text>
<text x="90.4" y="652.3" font-size="28.5" text-anchor="end" fill="#000" stroke="#000" stroke-width="0.3" >0.0</text>
<text x="91.5" y="702.2" font-size="28.5" text-anchor="end" fill="#000" stroke="#000" stroke-width="0.3" >0.1</text>
<text x="89.3" y="810.4" font-size="28.5" text-anchor="end" fill="#000" stroke="#000" stroke-width="0.3" >0.0</text>
<text x="91.9" y="912.6" font-size="28.5" text-anchor="end" fill="#000" stroke="#000" stroke-width="0.3" >-0.1</text>
<text x="116.2" y="1007.0" font-size="28" text-anchor="middle" fill="#000" stroke="#000" stroke-width="0.3" >-6</text>
<text x="231.2" y="1007.0" font-size="28" text-anchor="middle" fill="#000" stroke="#000" stroke-width="0.3" >-5</text>
<text x="349.0" y="1009.0" font-size="28" text-anchor="middle" fill="#000" stroke="#000" stroke-width="0.3" >-4</text>
<text x="462.0" y="1009.1" font-size="28" text-anchor="middle" fill="#000" stroke="#000" stroke-width="0.3" >-3</text>
<text x="578.3" y="1009.0" font-size="28" text-anchor="middle" fill="#000" stroke="#000" stroke-width="0.3" >-2</text>
<text x="718.3" y="1008.8" font-size="28" text-anchor="middle" fill="#000" stroke="#000" stroke-width="0.3" >-1</text>
<text x="838.8" y="1008.8" font-size="28" text-anchor="middle" fill="#000" stroke="#000" stroke-width="0.3" >0</text>
<text x="430.7" y="1046.5" font-size="32" text-anchor="start" fill="#000" stroke="#000" stroke-width="0.3" >d (m)</text>
<text x="132.6" y="68.2" font-size="32" text-anchor="start" fill="#000" stroke="#000" stroke-width="0.3" >a</text>
<text x="133.0" y="377.7" font-size="32" text-anchor="start" fill="#000" stroke="#000" stroke-width="0.3" >b</text>
<text x="132.9" y="685.6" font-size="32" text-anchor="start" fill="#000" stroke="#000" stroke-width="0.3" >c</text>
<text x="758.7" y="46.4" font-size="28" text-anchor="start" fill="#ff0000" stroke="#ff0000" stroke-width="0.3" >l=0.5</text>
<text x="758.7" y="78.9" font-size="28" text-anchor="start" fill="#a000a8" stroke="#a000a8" stroke-width="0.3" >l=0.6</text>
<text x="758.7" y="109.6" font-size="28" text-anchor="start" fill="#000000" stroke="#000000" stroke-width="0.3" >l=0.7</text>
<text x="758.7" y="141.6" font-size="28" text-anchor="start" fill="#0000ff" stroke="#0000ff" stroke-width="0.3" >l=0.8</text>
<text x="758.7" y="172.4" font-size="28" text-anchor="start" fill="#008000" stroke="#008000" stroke-width="0.3" >l=0.9</text>
<text x="758.7" y="203.4" font-size="28" text-anchor="start" fill="#005000" stroke="#005000" stroke-width="0.3" >l=1.0</text>
<g transform="translate(23.1,178.6) rotate(-90)"><text x="0" y="0" font-size="32" stroke="#000" stroke-width="0.3">W<tspan dy="8.5">d</tspan></text></g>
<g transform="translate(18.1,506.1) rotate(-90)"><text x="0" y="0" font-size="32"><tspan font-family="'DejaVu Serif', 'Liberation Serif', serif">χ</tspan></text></g>
<g transform="translate(22.6,853.6) rotate(-90)"><text font-size="32" stroke="#000" stroke-width="0.3"><tspan x="0" y="0"><tspan font-family="'DejaVu Serif', 'Liberation Serif', serif">χ</tspan></tspan><tspan x="26.6" y="8.6">calc</tspan><tspan x="83.5" y="1">-</tspan><tspan x="103" y="0"><tspan font-family="'DejaVu Serif', 'Liberation Serif', serif">χ</tspan></tspan><tspan x="129.9" y="8.6">real</tspan></text></g>
</g>
</svg></body></html>
